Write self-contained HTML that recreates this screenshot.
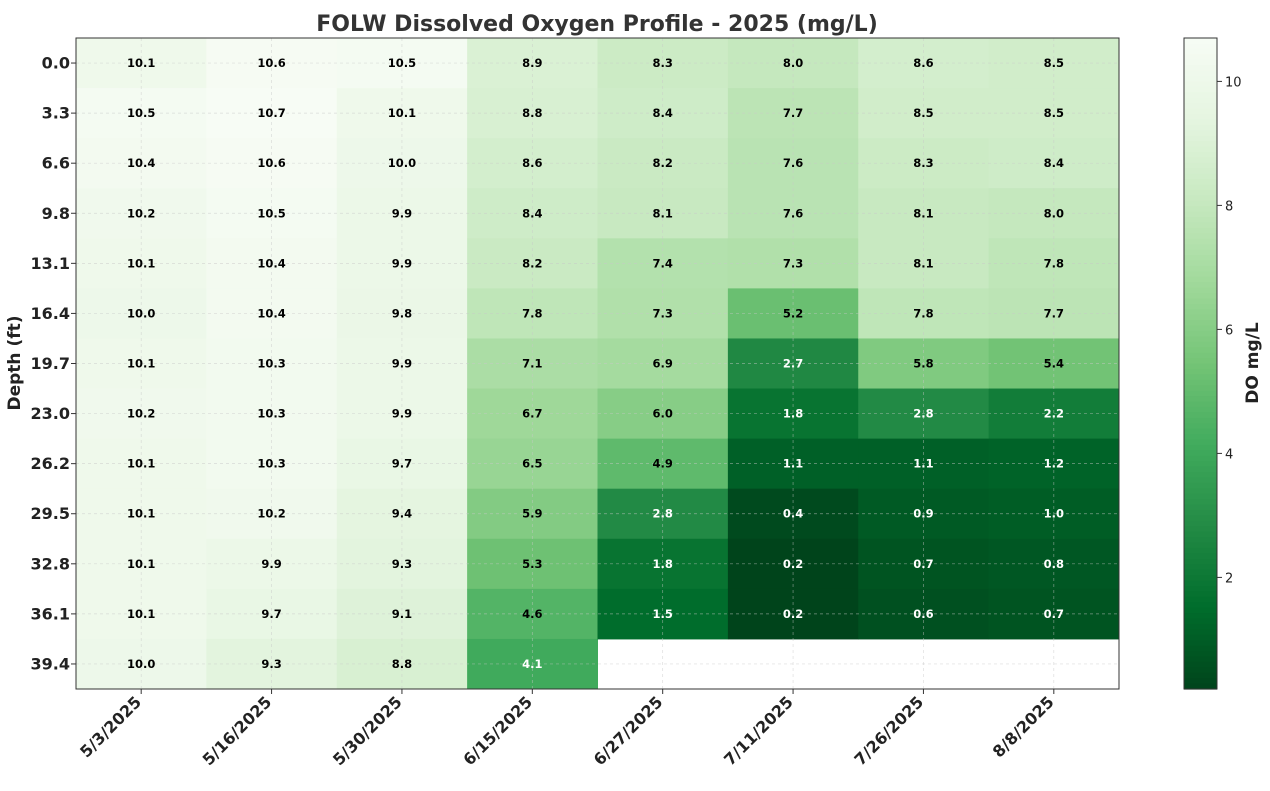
<!DOCTYPE html>
<html><head><meta charset="utf-8"><style>
body{margin:0;background:#fff;font-family:"Liberation Sans",sans-serif;}
svg text{font-family:"DejaVu Sans","Liberation Sans",sans-serif;}
</style></head><body>
<svg id="chart" width="1270" height="786" xmlns="http://www.w3.org/2000/svg">
<text x="597" y="31" text-anchor="middle" font-size="22" font-weight="bold" fill="#333">FOLW Dissolved Oxygen Profile - 2025 (mg/L)</text>
<g id="cells"></g><g id="grid"></g><g id="labels"></g><g id="axes"></g><g id="cbar"></g>
<text transform="translate(20,363) rotate(-90)" text-anchor="middle" font-size="17" font-weight="bold" fill="#222">Depth (ft)</text>
<text transform="translate(1258,363) rotate(-90)" text-anchor="middle" font-size="17" font-weight="bold" fill="#222">DO mg/L</text>
</svg>
<script>
const dates=["5/3/2025","5/16/2025","5/30/2025","6/15/2025","6/27/2025","7/11/2025","7/26/2025","8/8/2025"];
const depths=["0.0","3.3","6.6","9.8","13.1","16.4","19.7","23.0","26.2","29.5","32.8","36.1","39.4"];
const d0503=[10.1,10.5,10.4,10.2,10.1,10.0,10.1,10.2,10.1,10.1,10.1,10.1,10.0];
const d0516=[10.6,10.7,10.6,10.5,10.4,10.4,10.3,10.3,10.3,10.2,9.9,9.7,9.3];
const d0530=[10.5,10.1,10.0,9.9,9.9,9.8,9.9,9.9,9.7,9.4,9.3,9.1,8.8];
const d0615=[8.9,8.8,8.6,8.4,8.2,7.8,7.1,6.7,6.5,5.9,5.3,4.6,4.1];
const d0627=[8.3,8.4,8.2,8.1,7.4,7.3,6.9,6.0,4.9,2.8,1.8,1.5,null];
const d0711=[8.0,7.7,7.6,7.6,7.3,5.2,2.7,1.8,1.1,0.4,0.2,0.2,null];
const d0726=[8.6,8.5,8.3,8.1,8.1,7.8,5.8,2.8,1.1,0.9,0.7,0.6,null];
const d0808=[8.5,8.5,8.4,8.0,7.8,7.7,5.4,2.2,1.2,1.0,0.8,0.7,null];
const series=[d0503,d0516,d0530,d0615,d0627,d0711,d0726,d0808];
const cbTicks=[2,4,6,8,10];
const vmin=0.2,vmax=10.7;
const L=76,R=1119,T=38,B=689;
const cw=(R-L)/dates.length,ch=(B-T)/depths.length;
const xAt=i=>L+i*cw, yAt=j=>T+j*ch;
const stops=["#f7fcf5","#e5f5e0","#c7e9c0","#a1d99b","#74c476","#41ab5d","#238b45","#006d2c","#00441b"].map(h=>[1,3,5].map(k=>parseInt(h.substr(k,2),16)));
function color(v){let t=(v-vmin)/(vmax-vmin);t=Math.max(0,Math.min(1,t));t=1-t;const p=t*8,i=Math.min(7,Math.floor(p)),f=p-i;const c=stops[i].map((a,k)=>Math.round(a+(stops[i+1][k]-a)*f));return `rgb(${c})`;}
const NS="http://www.w3.org/2000/svg";
function mk(tag,attrs,parent,txt){const e=document.createElementNS(NS,tag);for(const k in attrs)e.setAttribute(k,attrs[k]);if(txt!==undefined)e.textContent=txt;document.getElementById(parent).appendChild(e);return e;}
series.forEach((col,i)=>col.forEach((v,j)=>{if(v===null)return;
const r=mk('rect',{x:xAt(i),y:yAt(j),width:cw+0.5,height:ch+0.5,fill:color(v)},'cells');


const t=mk('text',{x:xAt(i)+cw/2,y:yAt(j)+ch/2+4,'text-anchor':'middle','font-size':11.5,'font-weight':'bold',fill:v<4.3?'#fff':'#000'},'labels',v.toFixed(1));


}));
dates.forEach((d,i)=>{const x=xAt(i)+cw/2;
const g=mk('line',{x1:x,x2:x,y1:T,y2:B,stroke:'#c8c8c8','stroke-dasharray':'3,3','stroke-width':0.7,opacity:0.6},'grid');


mk('line',{x1:x,x2:x,y1:B,y2:B+5,stroke:'#333'},'axes');
const t=mk('text',{transform:`translate(${x+1},${B+14}) rotate(-45)`,'text-anchor':'end','font-size':16,'font-weight':'bold',fill:'#222'},'axes',d);

});
depths.forEach((d,j)=>{const y=yAt(j)+ch/2;
const g=mk('line',{x1:L,x2:R,y1:y,y2:y,stroke:'#c8c8c8','stroke-dasharray':'3,3','stroke-width':0.7,opacity:0.6},'grid');


mk('line',{x1:L-5,x2:L,y1:y,y2:y,stroke:'#333'},'axes');
const t=mk('text',{x:L-6,y:y+5.5,'text-anchor':'end','font-size':16,'font-weight':'bold',fill:'#222'},'axes',d);

});
mk('rect',{x:L,y:T,width:R-L,height:B-T,fill:'none',stroke:'#333','stroke-width':1},'axes');
const cx=1184,cwid=33,steps=120;
for(let k=0;k<steps;k++){const v=vmax-(k+0.5)*(vmax-vmin)/steps;mk('rect',{x:cx,y:T+k*(B-T)/steps,width:cwid,height:(B-T)/steps+0.6,fill:color(v)},'cbar');}
mk('rect',{x:cx,y:T,width:cwid,height:B-T,fill:'none',stroke:'#333'},'cbar');
const cy=v=>T+(vmax-v)/(vmax-vmin)*(B-T);
cbTicks.forEach(v=>{mk('line',{x1:cx+cwid,x2:cx+cwid+5,y1:cy(v),y2:cy(v),stroke:'#333'},'cbar');
const t=mk('text',{x:cx+cwid+8,y:cy(v)+5,'font-size':13,fill:'#222'},'cbar',String(v));

});
</script>
</body></html>
